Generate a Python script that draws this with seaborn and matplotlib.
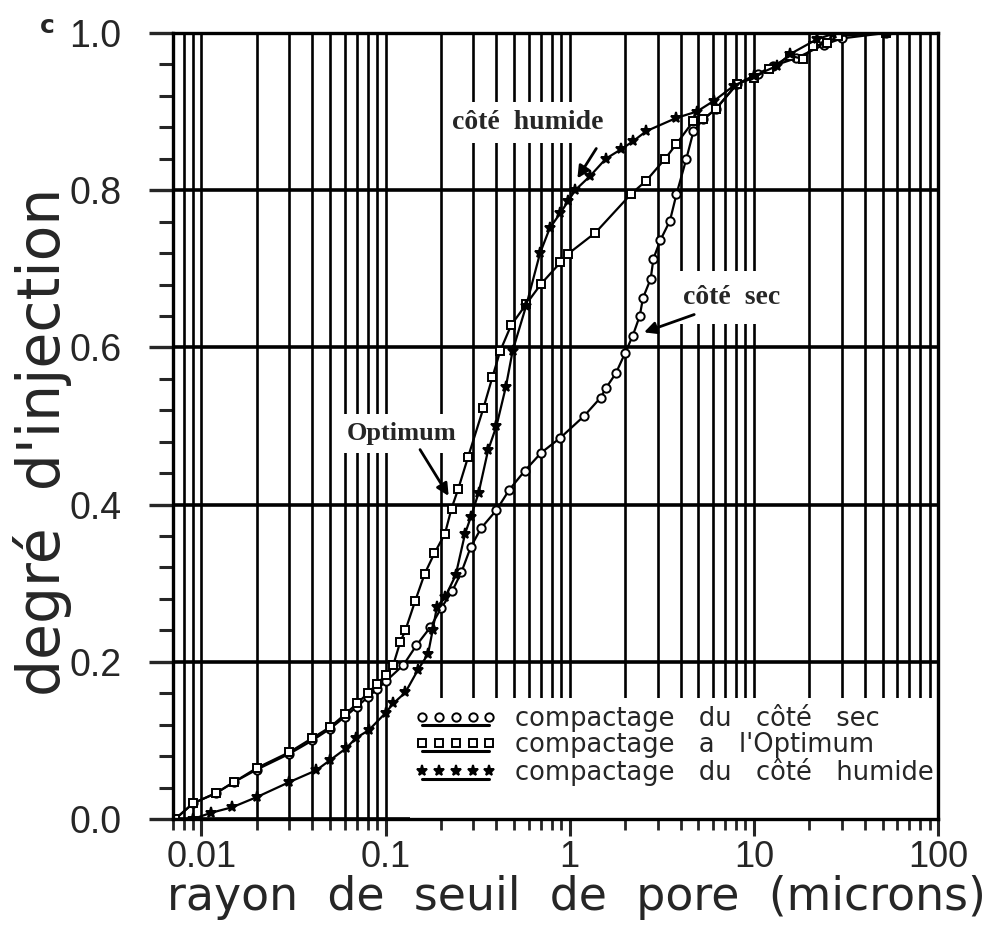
import numpy as np
import matplotlib
matplotlib.use("Agg")
import matplotlib.pyplot as plt
import seaborn as sns
from matplotlib.legend_handler import HandlerLine2DCompound
from matplotlib.patches import Rectangle
from matplotlib.ticker import LogLocator, MultipleLocator, NullFormatter

# =============================
# DATA
# =============================
sec_r = [0.0072, 0.009, 0.012, 0.015, 0.02, 0.03, 0.04, 0.05, 0.06, 0.07, 0.08,
         0.09, 0.1, 0.125, 0.147, 0.175, 0.2, 0.23, 0.258, 0.29, 0.33, 0.4, 0.47,
         0.57, 0.7, 0.89, 1.2, 1.47, 1.57, 1.78, 2.0, 2.2, 2.4, 2.5, 2.75, 2.85,
         3.1, 3.5, 3.8, 4.3, 4.7, 5.3, 6.2, 8.1, 10.5, 12.7, 17, 24, 30, 52]
sec_deg = [0.0, 0.02, 0.033, 0.047, 0.063, 0.083, 0.1, 0.115, 0.13, 0.143, 0.155,
           0.165, 0.175, 0.196, 0.221, 0.244, 0.268, 0.29, 0.314, 0.346, 0.37, 0.393, 0.419,
           0.443, 0.466, 0.485, 0.513, 0.536, 0.548, 0.567, 0.593, 0.615, 0.64, 0.663, 0.687, 0.713,
           0.736, 0.761, 0.795, 0.84, 0.875, 0.89, 0.903, 0.935, 0.948, 0.958, 0.968, 0.985, 0.993, 1.0]

opt_r = [0.0072, 0.009, 0.012, 0.015, 0.02, 0.03, 0.04, 0.05, 0.06, 0.07, 0.08,
         0.09, 0.1, 0.11, 0.12, 0.128, 0.145, 0.163, 0.184, 0.21, 0.228, 0.248, 0.28,
         0.34, 0.38, 0.42, 0.48, 0.58, 0.7, 0.89, 0.98, 1.38, 2.15, 2.6, 3.3, 3.8,
         4.7, 5.3, 6.2, 8.1, 10, 12.1, 15.7, 18.5, 21, 25, 28.5, 52]
opt_deg = [0.0, 0.02, 0.033, 0.047, 0.065, 0.085, 0.103, 0.117, 0.133, 0.147, 0.16,
           0.172, 0.183, 0.196, 0.225, 0.24, 0.278, 0.312, 0.338, 0.363, 0.395, 0.42, 0.46,
           0.523, 0.562, 0.596, 0.628, 0.655, 0.681, 0.708, 0.719, 0.746, 0.795, 0.812, 0.84, 0.859,
           0.888, 0.89, 0.903, 0.935, 0.943, 0.954, 0.971, 0.967, 0.983, 0.987, 0.996, 1.0]

hum_r = [0.009, 0.0113, 0.0147, 0.02, 0.03, 0.042, 0.05, 0.061, 0.069, 0.081, 0.1,
         0.11, 0.128, 0.15, 0.17, 0.18, 0.19, 0.21, 0.24, 0.27, 0.29, 0.32, 0.36, 0.4,
         0.45, 0.49, 0.58, 0.69, 0.78, 0.89, 0.98, 1.07, 1.29, 1.57, 1.9, 2.2, 2.6,
         3.8, 4.9, 6.1, 7.8, 10, 13.3, 15.7, 22, 27, 52]
hum_deg = [0.0, 0.008, 0.015, 0.028, 0.047, 0.062, 0.075, 0.09, 0.103, 0.113, 0.135,
           0.147, 0.161, 0.19, 0.21, 0.24, 0.27, 0.282, 0.31, 0.363, 0.384, 0.415, 0.469, 0.5,
           0.55, 0.596, 0.653, 0.72, 0.752, 0.771, 0.786, 0.8, 0.818, 0.84, 0.852, 0.862, 0.875,
           0.892, 0.9, 0.914, 0.933, 0.945, 0.958, 0.973, 0.992, 0.999, 1.0]

x_ticks = [0.01, 0.1, 1, 10, 100]
x_ticklabels = ["0.01", "0.1", "1", "10", "100"]
y_ticks = [0.0, 0.2, 0.4, 0.6, 0.8, 1.0]
y_ticklabels = ["0.0", "0.2", "0.4", "0.6", "0.8", "1.0"]
series_labels = ["compactage   du   côté   sec",
                 "compactage   a   l'Optimum",
                 "compactage   du   côté   humide"]


# legend handle: row of markers with a line drawn underneath
class UnderlineHandler(HandlerLine2DCompound):
    def create_artists(self, legend, orig_handle, xdescent, ydescent,
                       width, height, fontsize, trans):
        line, marks = super().create_artists(legend, orig_handle, xdescent, ydescent,
                                             width, height, fontsize, trans)
        line.set_ydata(np.asarray(line.get_ydata()) - 0.42 * height)
        line.set_linewidth(2.2)
        return [line, marks]


# =============================
# FIGURE
# =============================
sns.set_style("white")
plt.rcParams["font.family"] = ["DejaVu Sans"]

fig = plt.figure(figsize=(9.97, 9.34), dpi=100)
ax = fig.add_axes([0.1735, 0.1231, 0.7673, 0.8416])
ax.set_xscale("log")

common = dict(ax=ax, color="k", lw=1.6, sort=False, estimator=None, mec="k", mew=1.4)
sns.lineplot(x=sec_r, y=sec_deg, marker="o", ms=6, mfc="white", label=series_labels[0], **common)
sns.lineplot(x=opt_r, y=opt_deg, marker="s", ms=5.5, mfc="white", label=series_labels[1], **common)
sns.lineplot(x=hum_r, y=hum_deg, marker="*", ms=8, mfc="k", label=series_labels[2], **common)

# axes, ticks, grid
ax.set_xlim(0.007, 100)
ax.set_ylim(0, 1)
ax.set_xticks(x_ticks)
ax.set_xticklabels(x_ticklabels, fontsize=26, fontfamily="Liberation Sans")
ax.xaxis.set_minor_locator(LogLocator(base=10, subs=range(2, 10), numticks=20))
ax.xaxis.set_minor_formatter(NullFormatter())
ax.set_yticks(y_ticks)
ax.set_yticklabels(y_ticklabels, fontsize=27, fontfamily="Liberation Sans")
ax.yaxis.set_minor_locator(MultipleLocator(0.04))

ax.tick_params(axis="x", which="major", direction="out", length=12, width=2.2, pad=3, bottom=True)
ax.tick_params(axis="x", which="minor", direction="out", length=8, width=2, bottom=True)
ax.tick_params(axis="y", which="major", direction="out", length=17, width=2.4, pad=20, left=True)
ax.tick_params(axis="y", which="minor", direction="out", length=10, width=2.2, left=True)

ax.grid(True, which="both", axis="x", color="k", lw=1.9)
ax.grid(True, which="major", axis="y", color="k", lw=2.6)
ax.set_axisbelow(True)
for sp in ax.spines.values():
    sp.set_visible(True)
    sp.set_color("k")
    sp.set_linewidth(2.4)
    sp.set_zorder(8)

ax.set_xlabel("rayon  de  seuil  de  pore  (microns)", fontsize=33, labelpad=0, x=0.528)
ax.set_ylabel("degré  d'injection", fontsize=42, labelpad=-2, y=0.48)

# annotations
ax.text(0.59, 0.886, "côté  humide", fontsize=20, fontweight="bold", family="Liberation Serif",
        ha="center", va="center", bbox=dict(boxstyle="square,pad=0.3", fc="white", ec="none"), zorder=4)
ax.annotate("", xy=(1.08, 0.812), xytext=(1.42, 0.856),
            arrowprops=dict(arrowstyle="-|>", color="k", lw=2, mutation_scale=18), zorder=5)
ax.text(7.6, 0.663, "côté  sec", fontsize=20, fontweight="bold", family="Liberation Serif",
        ha="center", va="center", bbox=dict(boxstyle="square,pad=0.5", fc="white", ec="none"), zorder=4)
ax.annotate("", xy=(2.45, 0.618), xytext=(4.9, 0.643),
            arrowprops=dict(arrowstyle="-|>", color="k", lw=2, mutation_scale=18), zorder=5)
ax.text(0.122, 0.49, "Optimum", fontsize=19, fontweight="bold", family="Liberation Serif",
        ha="center", va="center", bbox=dict(boxstyle="square,pad=0.3", fc="white", ec="none"), zorder=4)
ax.annotate("", xy=(0.224, 0.408), xytext=(0.151, 0.473),
            arrowprops=dict(arrowstyle="-|>", color="k", lw=2, mutation_scale=18), zorder=5)

# legend: white panel hiding the grid down to the axis, entries on top of it
ax.add_patch(Rectangle((0.31, 0.0), 0.69, 0.154, transform=ax.transAxes,
                       fc="white", ec="none", zorder=0.7))
handles, labels = ax.get_legend_handles_labels()
leg = ax.legend(handles, labels, loc="upper left", bbox_to_anchor=(0.316, 0.146), borderaxespad=0,
                numpoints=5, handlelength=3.2, handletextpad=0.7, labelspacing=0.0,
                fontsize=18.5, frameon=False, borderpad=0,
                handler_map={h: UnderlineHandler(numpoints=5) for h in handles})
leg.set_zorder(6)

fig.text(0.04, 0.965, "c", fontsize=18, fontweight="bold")

plt.savefig("out.png", dpi=100)
plt.close()
